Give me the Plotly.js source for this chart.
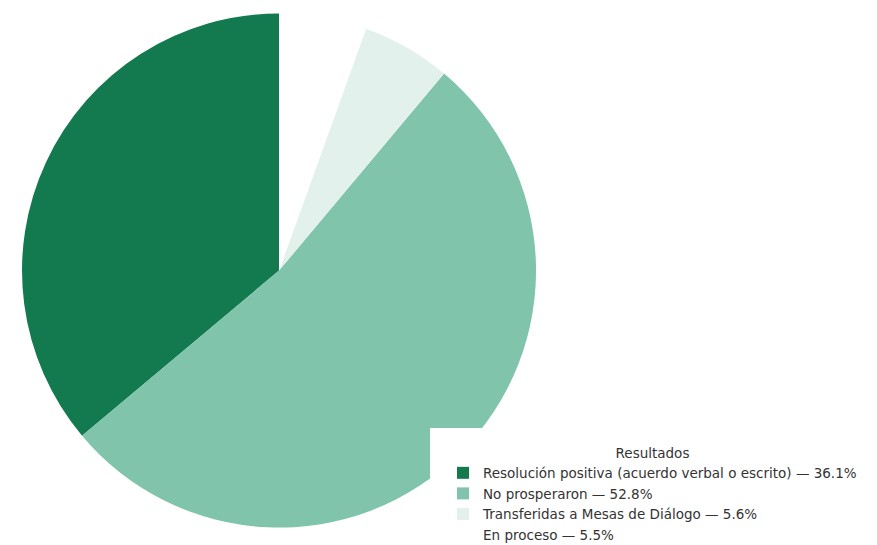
<!DOCTYPE html>
<html><head><meta charset="utf-8">
<script src="https://cdn.plot.ly/plotly-3.0.1.min.js"></script>
<style>html,body{margin:0;padding:0;background:#fff}</style>
</head><body>
<div id="chart" style="width:877px;height:545px"></div>
<script>
const categories = [
  "Resolución positiva (acuerdo verbal o escrito) — 36.1%",
  "No prosperaron — 52.8%",
  "Transferidas a Mesas de Diálogo — 5.6%",
  "En proceso — 5.5%"
];
const values = [36.1, 52.8, 5.6, 5.5];
const colors = ["#137a50", "#80c4ab", "#e3f1ec", "#ffffff"];
const legendTitle = "Resultados";

// Plotly places the first slice clockwise of 12 o'clock even when counterclockwise;
// rotate so the first slice starts at 12 o'clock and runs counterclockwise.
const total = values.reduce((a, b) => a + b, 0);
const startRotation = -values[0] / total * 360;

const data = [{
  type: "pie",
  labels: categories,
  values: values,
  sort: false,
  direction: "counterclockwise",
  rotation: startRotation,
  textinfo: "none",
  hoverinfo: "label",
  marker: {colors: colors, line: {color: "#ffffff", width: 0}},
  domain: {x: [0.0251, 0.6112], y: [0.031, 0.976]}
}];
const layout = {
  width: 877, height: 545,
  margin: {l: 0, r: 0, t: 0, b: 0, autoexpand: false},
  paper_bgcolor: "#ffffff",
  font: {family: "DejaVu Sans, sans-serif", color: "#333333", size: 13.5},
  showlegend: true,
  shapes: [{
    type: "rect", xref: "paper", yref: "paper", layer: "above",
    x0: 430/877, x1: 1, y0: 0, y1: (545-428)/545,
    fillcolor: "#ffffff", line: {width: 0}
  }],
  legend: {
    x: 443/877, y: (545-440)/545, xanchor: "left", yanchor: "top",
    bgcolor: "rgba(255,255,255,0)",
    title: {text: legendTitle, side: "top center", font: {size: 13.5, color: "#333"}},
    font: {size: 13.5, color: "#333"},
    traceorder: "normal",
    itemwidth: 30,
    tracegroupgap: 0
  }
};
Plotly.newPlot("chart", data, layout, {displayModeBar: false, staticPlot: true});
</script>
</body></html>
